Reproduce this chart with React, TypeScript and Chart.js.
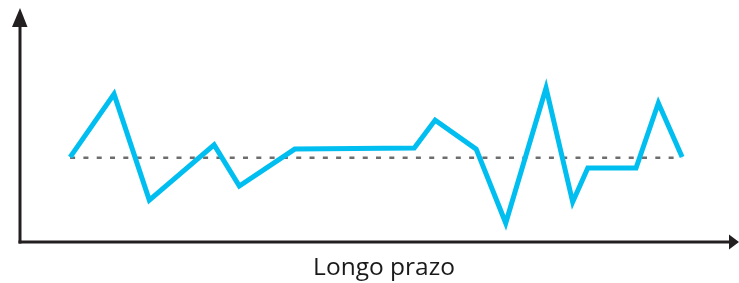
import React, { useEffect, useRef } from "react";
import { Chart, registerables } from "chart.js";

Chart.register(...registerables);

// Time position (0–100 along the horizontal axis) and value (0–100 of axis height)
const timePoints = [7.1, 13.2, 18.1, 27.1, 30.6, 38.3, 54.9, 57.8, 63.5, 67.6, 73.2, 76.9, 79.0, 85.7, 88.8, 92.1];
const seriesValues = [36.3, 63.2, 17.9, 41.5, 23.9, 39.7, 40.2, 52.1, 39.7, 8.1, 65.8, 17.1, 31.6, 31.6, 59.4, 36.3];
const baselineValue = 36.0;
const baselineRange = [7.1, 92.1];
const xAxisLabel = "Longo prazo";

const axesPlugin = {
  id: "arrowAxes",
  afterDraw(chart: any) {
    const { ctx, chartArea } = chart;
    const { left, right, top, bottom } = chartArea;
    ctx.save();
    ctx.fillStyle = "#231f20";
    ctx.strokeStyle = "#231f20";
    // y axis
    ctx.lineWidth = 3;
    ctx.beginPath();
    ctx.moveTo(left + 1, bottom + 1.5);
    ctx.lineTo(left + 1, top + 16);
    ctx.stroke();
    ctx.beginPath();
    ctx.moveTo(left + 1, top);
    ctx.lineTo(left - 7, top + 19);
    ctx.lineTo(left + 8.5, top + 19);
    ctx.closePath();
    ctx.fill();
    // x axis
    ctx.lineWidth = 3;
    ctx.beginPath();
    ctx.moveTo(left - 0.5, bottom);
    ctx.lineTo(right - 8, bottom);
    ctx.stroke();
    ctx.beginPath();
    ctx.moveTo(right, bottom);
    ctx.lineTo(right - 10, bottom - 7.5);
    ctx.lineTo(right - 10, bottom + 7.5);
    ctx.closePath();
    ctx.fill();
    // label
    ctx.fillStyle = "#1a1a1a";
    ctx.font = "24.5px 'Open Sans', sans-serif";
    ctx.textAlign = "center";
    ctx.textBaseline = "alphabetic";
    ctx.fillText(xAxisLabel, 384, 275);
    ctx.restore();
  },
};

export default function App() {
  const ref = useRef<HTMLCanvasElement>(null);
  useEffect(() => {
    if (!ref.current) return;
    const chart = new Chart(ref.current, {
      type: "line",
      data: {
        datasets: [
          {
            data: baselineRange.map((x) => ({ x, y: baselineValue })),
            borderColor: "#6d6d6d",
            borderWidth: 2.5,
            borderDash: [5, 8.3],
            pointRadius: 0,
            tension: 0,
            order: 2,
          },
          {
            data: timePoints.map((x, i) => ({ x, y: seriesValues[i] })),
            borderColor: "#00bff0",
            borderWidth: 5,
            pointRadius: 0,
            tension: 0,
            borderJoinStyle: "miter",
            order: 1,
          },
        ],
      },
      options: {
        responsive: false,
        animation: false,
        layout: { padding: { left: 19, right: 0, top: 8, bottom: 41 } },
        plugins: { legend: { display: false }, tooltip: { enabled: false }, title: { display: false } },
        scales: {
          x: { type: "linear", min: 0, max: 100, display: false },
          y: { type: "linear", min: 0, max: 100, display: false },
        },
      },
      plugins: [axesPlugin],
    });
    return () => chart.destroy();
  }, []);
  return (
    <div style={{ position: "fixed", left: 0, top: 0, width: 739, height: 283, background: "#fff" }}>
      <canvas ref={ref} width={739} height={283} />
    </div>
  );
}
